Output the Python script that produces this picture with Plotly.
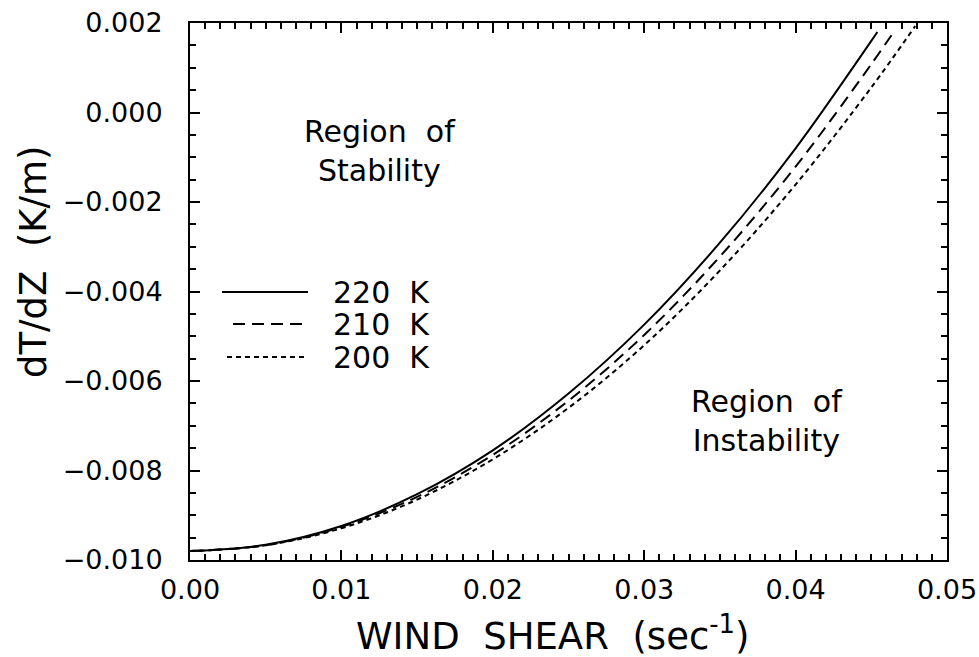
import plotly.graph_objects as go

# Wind shear values (sec^-1)
shear = [0.0, 0.005, 0.010, 0.015, 0.020, 0.025, 0.030, 0.035, 0.040, 0.045]

# dT/dZ (K/m)
t220 = [-0.0098, -0.00966, -0.00924, -0.00853, -0.00755, -0.00628, -0.00474, -0.00291, -0.00080, 0.00160]
t210 = [-0.0098, -0.00967, -0.00926, -0.00859, -0.00765, -0.00644, -0.00497, -0.00322, -0.00121, 0.00108]
t200 = [-0.0098, -0.00967, -0.00929, -0.00865, -0.00775, -0.00660, -0.00520, -0.00353, -0.00161, 0.00056]

# last points, just below the top of the frame
end220 = (0.0454, 0.00180)
end210 = (0.0466, 0.00186)
end200 = (0.0479, 0.00193)

labels = ["220\u00a0\u00a0K", "210\u00a0\u00a0K", "200\u00a0\u00a0K"]

FONT = "DejaVu Sans"

fig = go.Figure()
series = [(t220, end220, "solid"), (t210, end210, "12px,7px"), (t200, end200, "5px,4px")]
for vals, end, dash in series:
    fig.add_trace(go.Scatter(
        x=shear + [end[0]], y=vals + [end[1]], mode="lines",
        line=dict(color="black", width=2, dash=dash, shape="spline"),
        showlegend=False, hoverinfo="skip"))

W, H = 979, 657
L, R, T, B = 190, 32, 23, 97
pw, ph = W - L - R, H - T - B

def px(x):
    return (x - L) / pw

def py(y):
    return (H - B - y) / ph

# manual legend
leg = [(222, 292, "solid"), (233, 324, "12px,7px"), (227, 357, "5px,4px")]
for (x0, yy, dash), lab in zip(leg, labels):
    fig.add_shape(type="line", xref="paper", yref="paper",
                  x0=px(x0), x1=px(308), y0=py(yy), y1=py(yy),
                  line=dict(color="black", width=2, dash=dash))
    fig.add_annotation(xref="paper", yref="paper", x=px(331), y=py(yy),
                       text=lab, showarrow=False, xanchor="left", yanchor="middle",
                       font=dict(family=FONT, size=30, color="black"))

fig.add_annotation(xref="paper", yref="paper", x=px(380), y=py(151),
                   text="Region\u00a0\u00a0of<br>Stability", showarrow=False, align="center",
                   xanchor="center", yanchor="middle",
                   font=dict(family=FONT, size=30, color="black"))
fig.add_annotation(xref="paper", yref="paper", x=px(767), y=py(421),
                   text="Region\u00a0\u00a0of<br>Instability", showarrow=False, align="center",
                   xanchor="center", yanchor="middle",
                   font=dict(family=FONT, size=30, color="black"))

fig.add_annotation(xref="paper", yref="paper", x=px(553), y=py(633),
                   text="WIND\u00a0\u00a0SHEAR\u00a0\u00a0(sec<sup>-1</sup>)", showarrow=False,
                   xanchor="center", yanchor="middle",
                   font=dict(family=FONT, size=37, color="black"))
fig.add_annotation(xref="paper", yref="paper", x=px(33), y=py(262),
                   text="dT/dZ\u00a0\u00a0(K/m)", showarrow=False, textangle=-90,
                   xanchor="center", yanchor="middle",
                   font=dict(family=FONT, size=37, color="black"))

axis_common = dict(showgrid=False, zeroline=False, showline=True, linecolor="black",
                   linewidth=2, mirror="ticks", ticks="inside", tickcolor="black",
                   tickwidth=2, ticklen=10, automargin=False,
                   tickfont=dict(family=FONT, size=27, color="black"))

fig.update_xaxes(range=[0, 0.05], dtick=0.01, tickformat=".2f", ticklabelstandoff=5,
                 minor=dict(dtick=0.001, ticks="inside", ticklen=6, tickwidth=1.5, tickcolor="black"),
                 **axis_common)
fig.update_yaxes(range=[-0.010, 0.002], dtick=0.002, tickformat=".3f", ticklabelstandoff=20,
                 minor=dict(dtick=0.0005, ticks="inside", ticklen=6, tickwidth=1.5, tickcolor="black"),
                 **axis_common)

fig.update_layout(width=W, height=H, margin=dict(l=L, r=R, t=T, b=B),
                  plot_bgcolor="white", paper_bgcolor="white",
                  font=dict(family=FONT, color="black"))
fig.write_html("out.html", config={"displayModeBar": False},
               post_script="document.body.style.margin='0';document.body.style.overflow='hidden';")
